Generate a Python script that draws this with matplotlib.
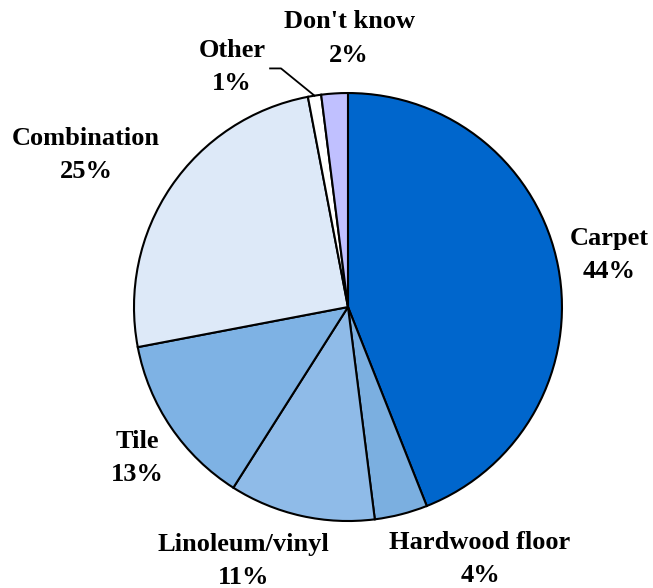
import numpy as np
import matplotlib.pyplot as plt

# Data
labels = ['Carpet', 'Hardwood floor', 'Linoleum/vinyl', 'Tile', 'Combination', 'Other', "Don't know"]
shares = [44, 4, 11, 13, 25, 1, 2]
colors = ['#0066CC', '#7BAFE0', '#8FBBE8', '#7EB2E4', '#DDE9F8', '#FFFFFF', '#C0C0FF']

# label centres (data units, pie radius = 1)
label_pos = [(1.22, 0.243), (0.617, -1.178), (-0.49, -1.187), (-0.986, -0.706),
             (-1.224, 0.71), (-0.542, 1.121), (0.005, 1.255)]

fig = plt.figure(figsize=(6.53, 5.88), dpi=100)
ax = fig.add_axes([0.2052, 0.1139, 0.6554, 0.7279])

wedges, _ = ax.pie(shares, colors=colors, startangle=90, counterclock=False,
                   radius=1, wedgeprops=dict(edgecolor='black', linewidth=1.5))

for lab, val, (x, y) in zip(labels, shares, label_pos):
    ax.text(x, y, f'{lab}\n{val}%', ha='center', va='center', fontsize=19,
            fontweight='bold', family='Liberation Serif', linespacing=1.58,
            clip_on=False)

# leader line for "Other"
w = wedges[labels.index('Other')]
mid = np.deg2rad((w.theta1 + w.theta2) / 2)
ex, ey = np.cos(mid), np.sin(mid)
ax.plot([-0.364, -0.313, ex], [1.115, 1.115, ey], color='black', lw=1.3, clip_on=False)

ax.set_xlim(-1, 1)
ax.set_ylim(-1, 1)
ax.set_aspect('equal')
ax.axis('off')

plt.savefig('out.png', dpi=100)
